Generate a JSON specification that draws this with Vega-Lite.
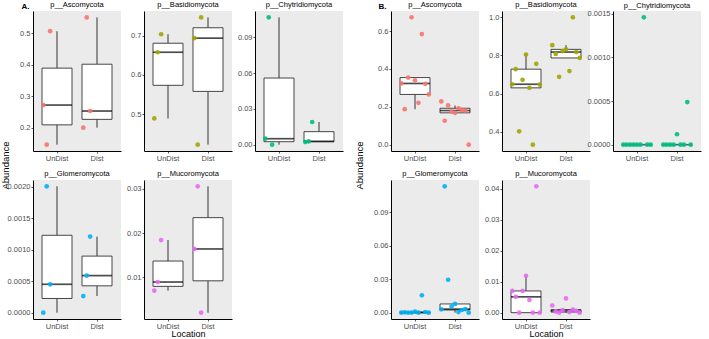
{
  "$schema": "https://vega.github.io/schema/vega-lite/v6.json",
  "autosize": {"type": "pad"},
  "padding": {"left": 0, "top": 0, "right": 2, "bottom": 0},
  "background": "white",
  "datasets": {
    "setA": [
      {"phylum": "p__Ascomycota", "location": "UnDist", "sample": "S1", "abundance": 0.272},
      {"phylum": "p__Ascomycota", "location": "UnDist", "sample": "S2", "abundance": 0.146},
      {"phylum": "p__Ascomycota", "location": "UnDist", "sample": "S3", "abundance": 0.507},
      {"phylum": "p__Ascomycota", "location": "Dist", "sample": "S1", "abundance": 0.200},
      {"phylum": "p__Ascomycota", "location": "Dist", "sample": "S2", "abundance": 0.551},
      {"phylum": "p__Ascomycota", "location": "Dist", "sample": "S3", "abundance": 0.253},
      {"phylum": "p__Basidiomycota", "location": "UnDist", "sample": "S1", "abundance": 0.489},
      {"phylum": "p__Basidiomycota", "location": "UnDist", "sample": "S2", "abundance": 0.658},
      {"phylum": "p__Basidiomycota", "location": "UnDist", "sample": "S3", "abundance": 0.704},
      {"phylum": "p__Basidiomycota", "location": "Dist", "sample": "S1", "abundance": 0.694},
      {"phylum": "p__Basidiomycota", "location": "Dist", "sample": "S2", "abundance": 0.422},
      {"phylum": "p__Basidiomycota", "location": "Dist", "sample": "S3", "abundance": 0.747},
      {"phylum": "p__Chytridiomycota", "location": "UnDist", "sample": "S1", "abundance": 0.005},
      {"phylum": "p__Chytridiomycota", "location": "UnDist", "sample": "S2", "abundance": 0.1067},
      {"phylum": "p__Chytridiomycota", "location": "UnDist", "sample": "S3", "abundance": 0.0},
      {"phylum": "p__Chytridiomycota", "location": "Dist", "sample": "S1", "abundance": 0.0022},
      {"phylum": "p__Chytridiomycota", "location": "Dist", "sample": "S2", "abundance": 0.0028},
      {"phylum": "p__Chytridiomycota", "location": "Dist", "sample": "S3", "abundance": 0.019},
      {"phylum": "p__Glomeromycota", "location": "UnDist", "sample": "S1", "abundance": 0.0},
      {"phylum": "p__Glomeromycota", "location": "UnDist", "sample": "S2", "abundance": 0.00201},
      {"phylum": "p__Glomeromycota", "location": "UnDist", "sample": "S3", "abundance": 0.000452},
      {"phylum": "p__Glomeromycota", "location": "Dist", "sample": "S1", "abundance": 0.000265},
      {"phylum": "p__Glomeromycota", "location": "Dist", "sample": "S2", "abundance": 0.00059},
      {"phylum": "p__Glomeromycota", "location": "Dist", "sample": "S3", "abundance": 0.00121},
      {"phylum": "p__Mucoromycota", "location": "UnDist", "sample": "S1", "abundance": 0.0069},
      {"phylum": "p__Mucoromycota", "location": "UnDist", "sample": "S2", "abundance": 0.00887},
      {"phylum": "p__Mucoromycota", "location": "UnDist", "sample": "S3", "abundance": 0.0184},
      {"phylum": "p__Mucoromycota", "location": "Dist", "sample": "S1", "abundance": 0.01638},
      {"phylum": "p__Mucoromycota", "location": "Dist", "sample": "S2", "abundance": 0.0306},
      {"phylum": "p__Mucoromycota", "location": "Dist", "sample": "S3", "abundance": 0.0019}
    ],
    "setB": [
      {"phylum": "p__Ascomycota", "location": "UnDist", "sample": "S1", "abundance": 0.323},
      {"phylum": "p__Ascomycota", "location": "UnDist", "sample": "S2", "abundance": 0.187},
      {"phylum": "p__Ascomycota", "location": "UnDist", "sample": "S3", "abundance": 0.354},
      {"phylum": "p__Ascomycota", "location": "UnDist", "sample": "S4", "abundance": 0.672},
      {"phylum": "p__Ascomycota", "location": "UnDist", "sample": "S5", "abundance": 0.340},
      {"phylum": "p__Ascomycota", "location": "UnDist", "sample": "S6", "abundance": 0.221},
      {"phylum": "p__Ascomycota", "location": "UnDist", "sample": "S7", "abundance": 0.584},
      {"phylum": "p__Ascomycota", "location": "UnDist", "sample": "S8", "abundance": 0.321},
      {"phylum": "p__Ascomycota", "location": "UnDist", "sample": "S9", "abundance": 0.265},
      {"phylum": "p__Ascomycota", "location": "Dist", "sample": "S1", "abundance": 0.228},
      {"phylum": "p__Ascomycota", "location": "Dist", "sample": "S2", "abundance": 0.126},
      {"phylum": "p__Ascomycota", "location": "Dist", "sample": "S3", "abundance": 0.207},
      {"phylum": "p__Ascomycota", "location": "Dist", "sample": "S4", "abundance": 0.175},
      {"phylum": "p__Ascomycota", "location": "Dist", "sample": "S5", "abundance": 0.168},
      {"phylum": "p__Ascomycota", "location": "Dist", "sample": "S6", "abundance": 0.192},
      {"phylum": "p__Ascomycota", "location": "Dist", "sample": "S7", "abundance": 0.184},
      {"phylum": "p__Ascomycota", "location": "Dist", "sample": "S8", "abundance": 0.180},
      {"phylum": "p__Ascomycota", "location": "Dist", "sample": "S9", "abundance": 0.0},
      {"phylum": "p__Basidiomycota", "location": "UnDist", "sample": "S1", "abundance": 0.649},
      {"phylum": "p__Basidiomycota", "location": "UnDist", "sample": "S2", "abundance": 0.728},
      {"phylum": "p__Basidiomycota", "location": "UnDist", "sample": "S3", "abundance": 0.402},
      {"phylum": "p__Basidiomycota", "location": "UnDist", "sample": "S4", "abundance": 0.672},
      {"phylum": "p__Basidiomycota", "location": "UnDist", "sample": "S5", "abundance": 0.805},
      {"phylum": "p__Basidiomycota", "location": "UnDist", "sample": "S6", "abundance": 0.630},
      {"phylum": "p__Basidiomycota", "location": "UnDist", "sample": "S7", "abundance": 0.332},
      {"phylum": "p__Basidiomycota", "location": "UnDist", "sample": "S8", "abundance": 0.756},
      {"phylum": "p__Basidiomycota", "location": "UnDist", "sample": "S9", "abundance": 0.647},
      {"phylum": "p__Basidiomycota", "location": "Dist", "sample": "S1", "abundance": 0.854},
      {"phylum": "p__Basidiomycota", "location": "Dist", "sample": "S2", "abundance": 0.808},
      {"phylum": "p__Basidiomycota", "location": "Dist", "sample": "S3", "abundance": 0.688},
      {"phylum": "p__Basidiomycota", "location": "Dist", "sample": "S4", "abundance": 0.823},
      {"phylum": "p__Basidiomycota", "location": "Dist", "sample": "S5", "abundance": 0.832},
      {"phylum": "p__Basidiomycota", "location": "Dist", "sample": "S6", "abundance": 0.718},
      {"phylum": "p__Basidiomycota", "location": "Dist", "sample": "S7", "abundance": 1.0},
      {"phylum": "p__Basidiomycota", "location": "Dist", "sample": "S8", "abundance": 0.818},
      {"phylum": "p__Basidiomycota", "location": "Dist", "sample": "S9", "abundance": 0.787},
      {"phylum": "p__Chytridiomycota", "location": "UnDist", "sample": "S1", "abundance": 0.0},
      {"phylum": "p__Chytridiomycota", "location": "UnDist", "sample": "S2", "abundance": 0.0},
      {"phylum": "p__Chytridiomycota", "location": "UnDist", "sample": "S3", "abundance": 0.0},
      {"phylum": "p__Chytridiomycota", "location": "UnDist", "sample": "S4", "abundance": 0.0},
      {"phylum": "p__Chytridiomycota", "location": "UnDist", "sample": "S5", "abundance": 0.0},
      {"phylum": "p__Chytridiomycota", "location": "UnDist", "sample": "S6", "abundance": 0.0},
      {"phylum": "p__Chytridiomycota", "location": "UnDist", "sample": "S7", "abundance": 0.00146},
      {"phylum": "p__Chytridiomycota", "location": "UnDist", "sample": "S8", "abundance": 0.0},
      {"phylum": "p__Chytridiomycota", "location": "UnDist", "sample": "S9", "abundance": 0.0},
      {"phylum": "p__Chytridiomycota", "location": "Dist", "sample": "S1", "abundance": 0.0},
      {"phylum": "p__Chytridiomycota", "location": "Dist", "sample": "S2", "abundance": 0.0},
      {"phylum": "p__Chytridiomycota", "location": "Dist", "sample": "S3", "abundance": 0.0},
      {"phylum": "p__Chytridiomycota", "location": "Dist", "sample": "S4", "abundance": 0.0},
      {"phylum": "p__Chytridiomycota", "location": "Dist", "sample": "S5", "abundance": 0.000119},
      {"phylum": "p__Chytridiomycota", "location": "Dist", "sample": "S6", "abundance": 0.0},
      {"phylum": "p__Chytridiomycota", "location": "Dist", "sample": "S7", "abundance": 0.0},
      {"phylum": "p__Chytridiomycota", "location": "Dist", "sample": "S8", "abundance": 0.000488},
      {"phylum": "p__Chytridiomycota", "location": "Dist", "sample": "S9", "abundance": 0.0},
      {"phylum": "p__Glomeromycota", "location": "UnDist", "sample": "S1", "abundance": 0.0},
      {"phylum": "p__Glomeromycota", "location": "UnDist", "sample": "S2", "abundance": 0.0003},
      {"phylum": "p__Glomeromycota", "location": "UnDist", "sample": "S3", "abundance": 0.0},
      {"phylum": "p__Glomeromycota", "location": "UnDist", "sample": "S4", "abundance": 0.0001},
      {"phylum": "p__Glomeromycota", "location": "UnDist", "sample": "S5", "abundance": 0.001},
      {"phylum": "p__Glomeromycota", "location": "UnDist", "sample": "S6", "abundance": 0.0},
      {"phylum": "p__Glomeromycota", "location": "UnDist", "sample": "S7", "abundance": 0.0155},
      {"phylum": "p__Glomeromycota", "location": "UnDist", "sample": "S8", "abundance": 0.0006},
      {"phylum": "p__Glomeromycota", "location": "UnDist", "sample": "S9", "abundance": 0.0},
      {"phylum": "p__Glomeromycota", "location": "Dist", "sample": "S1", "abundance": 0.003},
      {"phylum": "p__Glomeromycota", "location": "Dist", "sample": "S2", "abundance": 0.1131},
      {"phylum": "p__Glomeromycota", "location": "Dist", "sample": "S3", "abundance": 0.0295},
      {"phylum": "p__Glomeromycota", "location": "Dist", "sample": "S4", "abundance": 0.0055},
      {"phylum": "p__Glomeromycota", "location": "Dist", "sample": "S5", "abundance": 0.0078},
      {"phylum": "p__Glomeromycota", "location": "Dist", "sample": "S6", "abundance": 0.0005},
      {"phylum": "p__Glomeromycota", "location": "Dist", "sample": "S7", "abundance": 0.0024},
      {"phylum": "p__Glomeromycota", "location": "Dist", "sample": "S8", "abundance": 0.0032},
      {"phylum": "p__Glomeromycota", "location": "Dist", "sample": "S9", "abundance": 0.0},
      {"phylum": "p__Mucoromycota", "location": "UnDist", "sample": "S1", "abundance": 0.007},
      {"phylum": "p__Mucoromycota", "location": "UnDist", "sample": "S2", "abundance": 0.0051},
      {"phylum": "p__Mucoromycota", "location": "UnDist", "sample": "S3", "abundance": 0.0},
      {"phylum": "p__Mucoromycota", "location": "UnDist", "sample": "S4", "abundance": 0.007},
      {"phylum": "p__Mucoromycota", "location": "UnDist", "sample": "S5", "abundance": 0.0119},
      {"phylum": "p__Mucoromycota", "location": "UnDist", "sample": "S6", "abundance": 0.0041},
      {"phylum": "p__Mucoromycota", "location": "UnDist", "sample": "S7", "abundance": 0.0},
      {"phylum": "p__Mucoromycota", "location": "UnDist", "sample": "S8", "abundance": 0.0407},
      {"phylum": "p__Mucoromycota", "location": "UnDist", "sample": "S9", "abundance": 0.0},
      {"phylum": "p__Mucoromycota", "location": "Dist", "sample": "S1", "abundance": 0.0023},
      {"phylum": "p__Mucoromycota", "location": "Dist", "sample": "S2", "abundance": 0.0004},
      {"phylum": "p__Mucoromycota", "location": "Dist", "sample": "S3", "abundance": 0.0},
      {"phylum": "p__Mucoromycota", "location": "Dist", "sample": "S4", "abundance": 0.0008},
      {"phylum": "p__Mucoromycota", "location": "Dist", "sample": "S5", "abundance": 0.0046},
      {"phylum": "p__Mucoromycota", "location": "Dist", "sample": "S6", "abundance": 0.0002},
      {"phylum": "p__Mucoromycota", "location": "Dist", "sample": "S7", "abundance": 0.001},
      {"phylum": "p__Mucoromycota", "location": "Dist", "sample": "S8", "abundance": 0.0006},
      {"phylum": "p__Mucoromycota", "location": "Dist", "sample": "S9", "abundance": 0.0}
    ]
  },
  "columns": 7,
  "align": "each",
  "bounds": "flush",
  "spacing": {"row": 29, "column": 23},
  "concat": [
    {
      "width": 88, "height": 140,
      "title": {"text": "p__Ascomycota", "dy": 9.5},
      "data": {"name": "setA"},
      "transform": [{"filter": "datum.phylum == 'p__Ascomycota'"}],
      "encoding": {
        "x": {"field": "location", "type": "nominal", "scale": {"domain": ["UnDist", "Dist"], "paddingInner": 0.25, "paddingOuter": 0.225},
              "axis": {"title": "A.", "titleAngle": 0, "titleX": -12, "titleY": -145, "titleAlign": "left", "titleBaseline": "middle", "titleFontSize": 8, "titleFontWeight": "bold"}},
        "y": {"field": "abundance", "type": "quantitative", "scale": {"domain": [0.1258, 0.5713], "nice": false, "zero": false},
              "axis": {"values": [0.2, 0.3, 0.4, 0.5], "format": ".1f", "title": "Abundance", "titleAngle": -90, "titleX": -28, "titleY": 154, "titleAlign": "center", "titleBaseline": "middle"}}
      },
      "layer": [
        {"mark": {"type": "boxplot", "extent": 1.5, "outliers": false, "size": 30, "box": {"fill": "white", "stroke": "#333333", "strokeWidth": 0.9}, "median": {"color": "black", "thickness": 1.7}, "rule": {"color": "#333333", "stroke": "#333333", "strokeWidth": 1, "opacity": 1}}},
        {"mark": {"type": "point", "filled": true, "size": 22, "opacity": 0.9},
         "encoding": {"xOffset": {"field": "sample", "scale": {"domain": ["S1", "S2", "S3"], "paddingOuter": 0.375}}, "color": {"field": "phylum", "type": "nominal", "legend": null}}}
      ]
    },
    {
      "width": 88, "height": 140,
      "title": "p__Basidiomycota",
      "data": {"name": "setA"},
      "transform": [{"filter": "datum.phylum == 'p__Basidiomycota'"}],
      "encoding": {
        "x": {"field": "location", "type": "nominal", "scale": {"domain": ["UnDist", "Dist"], "paddingInner": 0.25, "paddingOuter": 0.225}, "axis": {"title": null}},
        "y": {"field": "abundance", "type": "quantitative", "scale": {"domain": [0.4058, 0.7633], "nice": false, "zero": false},
              "axis": {"values": [0.5, 0.6, 0.7], "format": ".1f", "title": null}}
      },
      "layer": [
        {"mark": {"type": "boxplot", "extent": 1.5, "outliers": false, "size": 30, "box": {"fill": "white", "stroke": "#333333", "strokeWidth": 0.9}, "median": {"color": "black", "thickness": 1.7}, "rule": {"color": "#333333", "stroke": "#333333", "strokeWidth": 1, "opacity": 1}}},
        {"mark": {"type": "point", "filled": true, "size": 22, "opacity": 0.9},
         "encoding": {"xOffset": {"field": "sample", "scale": {"domain": ["S1", "S2", "S3"], "paddingOuter": 0.375}}, "color": {"field": "phylum", "type": "nominal", "legend": null}}}
      ]
    },
    {
      "width": 88, "height": 140,
      "title": "p__Chytridiomycota",
      "data": {"name": "setA"},
      "transform": [{"filter": "datum.phylum == 'p__Chytridiomycota'"}],
      "encoding": {
        "x": {"field": "location", "type": "nominal", "scale": {"domain": ["UnDist", "Dist"], "paddingInner": 0.25, "paddingOuter": 0.225}, "axis": {"title": null}},
        "y": {"field": "abundance", "type": "quantitative", "scale": {"domain": [-0.0053, 0.112], "nice": false, "zero": false},
              "axis": {"values": [0, 0.03, 0.06, 0.09], "format": ".2f", "title": null}}
      },
      "layer": [
        {"mark": {"type": "boxplot", "extent": 1.5, "outliers": false, "size": 30, "box": {"fill": "white", "stroke": "#333333", "strokeWidth": 0.9}, "median": {"color": "black", "thickness": 1.7}, "rule": {"color": "#333333", "stroke": "#333333", "strokeWidth": 1, "opacity": 1}}},
        {"mark": {"type": "point", "filled": true, "size": 22, "opacity": 0.9},
         "encoding": {"xOffset": {"field": "sample", "scale": {"domain": ["S1", "S2", "S3"], "paddingOuter": 0.375}}, "color": {"field": "phylum", "type": "nominal", "legend": null}}}
      ]
    },
    {
      "width": 2, "height": 140,
      "data": {"values": []},
      "mark": "point",
      "encoding": {},
      "view": {"fill": null, "stroke": null}
    },
    {
      "width": 88, "height": 140,
      "title": {"text": "p__Ascomycota", "dy": 9.5},
      "data": {"name": "setB"},
      "transform": [{"filter": "datum.phylum == 'p__Ascomycota'"}],
      "encoding": {
        "x": {"field": "location", "type": "nominal", "scale": {"domain": ["UnDist", "Dist"], "paddingInner": 0.25, "paddingOuter": 0.225},
              "axis": {"title": "B.", "titleAngle": 0, "titleX": -13, "titleY": -145, "titleAlign": "left", "titleBaseline": "middle", "titleFontSize": 8, "titleFontWeight": "bold"}},
        "y": {"field": "abundance", "type": "quantitative", "scale": {"domain": [-0.0336, 0.7056], "nice": false, "zero": false},
              "axis": {"values": [0, 0.2, 0.4, 0.6], "format": ".1f", "title": "Abundance", "titleAngle": -90, "titleX": -32, "titleY": 154, "titleAlign": "center", "titleBaseline": "middle"}}
      },
      "layer": [
        {"mark": {"type": "boxplot", "extent": 1.5, "outliers": false, "size": 30, "box": {"fill": "white", "stroke": "#333333", "strokeWidth": 0.9}, "median": {"color": "black", "thickness": 1.7}, "rule": {"color": "#333333", "stroke": "#333333", "strokeWidth": 1, "opacity": 1}}},
        {"mark": {"type": "point", "filled": true, "size": 22, "opacity": 0.9},
         "encoding": {"xOffset": {"field": "sample", "scale": {"domain": ["S1", "S2", "S3", "S4", "S5", "S6", "S7", "S8", "S9"], "paddingOuter": 2.2}}, "color": {"field": "phylum", "type": "nominal", "legend": null}}}
      ]
    },
    {
      "width": 88, "height": 140,
      "title": "p__Basidiomycota",
      "data": {"name": "setB"},
      "transform": [{"filter": "datum.phylum == 'p__Basidiomycota'"}],
      "encoding": {
        "x": {"field": "location", "type": "nominal", "scale": {"domain": ["UnDist", "Dist"], "paddingInner": 0.25, "paddingOuter": 0.225}, "axis": {"title": null}},
        "y": {"field": "abundance", "type": "quantitative", "scale": {"domain": [0.2986, 1.0334], "nice": false, "zero": false},
              "axis": {"values": [0.4, 0.6, 0.8, 1.0], "format": ".1f", "title": null}}
      },
      "layer": [
        {"mark": {"type": "boxplot", "extent": 1.5, "outliers": false, "size": 30, "box": {"fill": "white", "stroke": "#333333", "strokeWidth": 0.9}, "median": {"color": "black", "thickness": 1.7}, "rule": {"color": "#333333", "stroke": "#333333", "strokeWidth": 1, "opacity": 1}}},
        {"mark": {"type": "point", "filled": true, "size": 22, "opacity": 0.9},
         "encoding": {"xOffset": {"field": "sample", "scale": {"domain": ["S1", "S2", "S3", "S4", "S5", "S6", "S7", "S8", "S9"], "paddingOuter": 2.2}}, "color": {"field": "phylum", "type": "nominal", "legend": null}}}
      ]
    },
    {
      "width": 88, "height": 140,
      "title": {"text": "p__Chytridiomycota", "dy": 2.5},
      "data": {"name": "setB"},
      "transform": [{"filter": "datum.phylum == 'p__Chytridiomycota'"}],
      "encoding": {
        "x": {"field": "location", "type": "nominal", "scale": {"domain": ["UnDist", "Dist"], "paddingInner": 0.25, "paddingOuter": 0.225}, "axis": {"title": null}},
        "y": {"field": "abundance", "type": "quantitative", "scale": {"domain": [-0.000073, 0.001533], "nice": false, "zero": false},
              "axis": {"values": [0, 0.0005, 0.001, 0.0015], "format": ".4f", "title": null}}
      },
      "layer": [
        {"mark": {"type": "boxplot", "extent": 1.5, "outliers": false, "size": 30, "box": {"fill": "white", "stroke": "#333333", "strokeWidth": 0.9}, "median": {"color": "black", "thickness": 1.7}, "rule": {"color": "#333333", "stroke": "#333333", "strokeWidth": 1, "opacity": 1}}},
        {"mark": {"type": "point", "filled": true, "size": 22, "opacity": 0.9},
         "encoding": {"xOffset": {"field": "sample", "scale": {"domain": ["S1", "S2", "S3", "S4", "S5", "S6", "S7", "S8", "S9"], "paddingOuter": 2.2}}, "color": {"field": "phylum", "type": "nominal", "legend": null}}}
      ]
    },
    {
      "width": 88, "height": 139,
      "title": "p__Glomeromycota",
      "data": {"name": "setA"},
      "transform": [{"filter": "datum.phylum == 'p__Glomeromycota'"}],
      "encoding": {
        "x": {"field": "location", "type": "nominal", "scale": {"domain": ["UnDist", "Dist"], "paddingInner": 0.25, "paddingOuter": 0.225}, "axis": {"title": null}},
        "y": {"field": "abundance", "type": "quantitative", "scale": {"domain": [-0.0001, 0.00211], "nice": false, "zero": false},
              "axis": {"values": [0, 0.0005, 0.001, 0.0015, 0.002], "format": ".4f", "title": null}}
      },
      "layer": [
        {"mark": {"type": "boxplot", "extent": 1.5, "outliers": false, "size": 30, "box": {"fill": "white", "stroke": "#333333", "strokeWidth": 0.9}, "median": {"color": "black", "thickness": 1.7}, "rule": {"color": "#333333", "stroke": "#333333", "strokeWidth": 1, "opacity": 1}}},
        {"mark": {"type": "point", "filled": true, "size": 22, "opacity": 0.9},
         "encoding": {"xOffset": {"field": "sample", "scale": {"domain": ["S1", "S2", "S3"], "paddingOuter": 0.375}}, "color": {"field": "phylum", "type": "nominal", "legend": null}}}
      ]
    },
    {
      "width": 88, "height": 139,
      "title": "p__Mucoromycota",
      "data": {"name": "setA"},
      "transform": [{"filter": "datum.phylum == 'p__Mucoromycota'"}],
      "encoding": {
        "x": {"field": "location", "type": "nominal", "scale": {"domain": ["UnDist", "Dist"], "paddingInner": 0.25, "paddingOuter": 0.225}, "axis": {"title": "Location", "titlePadding": 0, "titleFontSize": 9}},
        "y": {"field": "abundance", "type": "quantitative", "scale": {"domain": [0.00047, 0.03204], "nice": false, "zero": false},
              "axis": {"values": [0.01, 0.02, 0.03], "format": ".2f", "title": null}}
      },
      "layer": [
        {"mark": {"type": "boxplot", "extent": 1.5, "outliers": false, "size": 30, "box": {"fill": "white", "stroke": "#333333", "strokeWidth": 0.9}, "median": {"color": "black", "thickness": 1.7}, "rule": {"color": "#333333", "stroke": "#333333", "strokeWidth": 1, "opacity": 1}}},
        {"mark": {"type": "point", "filled": true, "size": 22, "opacity": 0.9},
         "encoding": {"xOffset": {"field": "sample", "scale": {"domain": ["S1", "S2", "S3"], "paddingOuter": 0.375}}, "color": {"field": "phylum", "type": "nominal", "legend": null}}}
      ]
    },
    {
      "width": 88, "height": 139,
      "data": {"values": []},
      "mark": "point",
      "encoding": {},
      "view": {"fill": null, "stroke": null}
    },
    {
      "width": 2, "height": 139,
      "data": {"values": []},
      "mark": "point",
      "encoding": {},
      "view": {"fill": null, "stroke": null}
    },
    {
      "width": 88, "height": 139,
      "title": "p__Glomeromycota",
      "data": {"name": "setB"},
      "transform": [{"filter": "datum.phylum == 'p__Glomeromycota'"}],
      "encoding": {
        "x": {"field": "location", "type": "nominal", "scale": {"domain": ["UnDist", "Dist"], "paddingInner": 0.25, "paddingOuter": 0.225}, "axis": {"title": null}},
        "y": {"field": "abundance", "type": "quantitative", "scale": {"domain": [-0.00566, 0.1188], "nice": false, "zero": false},
              "axis": {"values": [0, 0.03, 0.06, 0.09], "format": ".2f", "title": null}}
      },
      "layer": [
        {"mark": {"type": "boxplot", "extent": 1.5, "outliers": false, "size": 30, "box": {"fill": "white", "stroke": "#333333", "strokeWidth": 0.9}, "median": {"color": "black", "thickness": 1.7}, "rule": {"color": "#333333", "stroke": "#333333", "strokeWidth": 1, "opacity": 1}}},
        {"mark": {"type": "point", "filled": true, "size": 22, "opacity": 0.9},
         "encoding": {"xOffset": {"field": "sample", "scale": {"domain": ["S1", "S2", "S3", "S4", "S5", "S6", "S7", "S8", "S9"], "paddingOuter": 2.2}}, "color": {"field": "phylum", "type": "nominal", "legend": null}}}
      ]
    },
    {
      "width": 88, "height": 139,
      "title": "p__Mucoromycota",
      "data": {"name": "setB"},
      "transform": [{"filter": "datum.phylum == 'p__Mucoromycota'"}],
      "encoding": {
        "x": {"field": "location", "type": "nominal", "scale": {"domain": ["UnDist", "Dist"], "paddingInner": 0.25, "paddingOuter": 0.225}, "axis": {"title": "Location", "titlePadding": 0, "titleFontSize": 9}},
        "y": {"field": "abundance", "type": "quantitative", "scale": {"domain": [-0.00204, 0.04274], "nice": false, "zero": false},
              "axis": {"values": [0, 0.01, 0.02, 0.03, 0.04], "format": ".2f", "title": null}}
      },
      "layer": [
        {"mark": {"type": "boxplot", "extent": 1.5, "outliers": false, "size": 30, "box": {"fill": "white", "stroke": "#333333", "strokeWidth": 0.9}, "median": {"color": "black", "thickness": 1.7}, "rule": {"color": "#333333", "stroke": "#333333", "strokeWidth": 1, "opacity": 1}}},
        {"mark": {"type": "point", "filled": true, "size": 22, "opacity": 0.9},
         "encoding": {"xOffset": {"field": "sample", "scale": {"domain": ["S1", "S2", "S3", "S4", "S5", "S6", "S7", "S8", "S9"], "paddingOuter": 2.2}}, "color": {"field": "phylum", "type": "nominal", "legend": null}}}
      ]
    }
  ],
  "resolve": {"scale": {"color": "shared"}},
  "config": {
    "font": "Liberation Sans",
    "view": {"fill": "#EBEBEB", "stroke": null},
    "range": {"category": ["#F8766D", "#A3A500", "#00BF7D", "#00B0F6", "#E76BF3"]},
    "axis": {
      "grid": false,
      "domainColor": "#000000",
      "domainWidth": 1,
      "tickColor": "#333333",
      "tickSize": 2,
      "tickWidth": 0.8,
      "labelColor": "#4D4D4D",
      "labelFontSize": 7.5,
      "labelPadding": 1,
      "labelFlush": false,
      "labelOverlap": false,
      "titleFontSize": 9.5,
      "titleFontWeight": "normal",
      "titleColor": "#000000"
    },
    "axisX": {"labelAngle": 0},
    "title": {"fontSize": 7.5, "fontWeight": "normal", "offset": 3, "color": "#000000", "frame": "group"}
  }
}
